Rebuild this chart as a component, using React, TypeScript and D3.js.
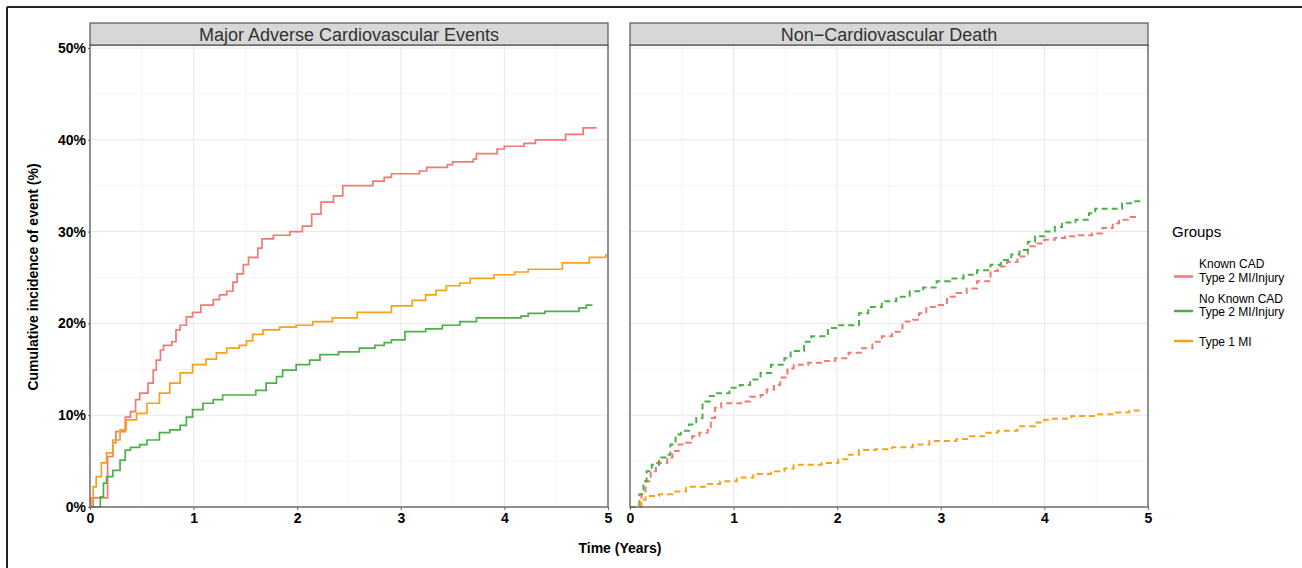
import React, { useEffect, useRef } from 'react';
import * as d3 from 'd3';

// panel titles, groups and tick labels
const panelTitles = ['Major Adverse Cardiovascular Events', 'Non\u2212Cardiovascular Death'];
const groupNames = [['Known CAD', 'Type 2 MI/Injury'], ['No Known CAD', 'Type 2 MI/Injury'], ['Type 1 MI']];
const groupColors = ['#F27A72', '#4DAF4A', '#F8A21A'];
const xTicks = [0, 1, 2, 3, 4, 5];
const yTicks = [0, 10, 20, 30, 40, 50];

// cumulative incidence (%): [years, percent]
const maceKnownCad: [number, number][] = [
	[0, 0], [0.03, 1.0], [0.17, 5.5], [0.22, 7.0], [0.25, 8.2], [0.34, 9.8], [0.39, 10.4], [0.44, 11.7],
	[0.48, 12.4], [0.56, 13.5], [0.61, 14.9], [0.64, 16.0], [0.68, 17.1], [0.71, 17.6], [0.79, 18.0],
	[0.83, 19.3], [0.87, 19.8], [0.93, 20.7], [0.99, 21.2], [1.07, 22.0], [1.19, 22.6], [1.25, 23.1],
	[1.32, 23.5], [1.38, 24.5], [1.42, 25.4], [1.48, 26.4], [1.53, 27.2], [1.62, 28.2], [1.66, 29.2],
	[1.77, 29.6], [1.93, 30.0], [2.05, 30.6], [2.14, 31.9], [2.23, 33.2], [2.35, 33.9], [2.44, 35.0],
	[2.73, 35.5], [2.84, 35.9], [2.91, 36.3], [3.18, 36.6], [3.25, 37.0], [3.45, 37.3], [3.5, 37.6],
	[3.7, 37.9], [3.73, 38.5], [3.93, 39.0], [4.0, 39.3], [4.19, 39.6], [4.3, 40.0], [4.59, 40.6],
	[4.76, 41.3], [4.89, 41.3],
];
const maceNoKnownCad: [number, number][] = [
	[0, 0], [0.1, 1.1], [0.13, 2.6], [0.16, 3.3], [0.22, 4.0], [0.29, 5.1], [0.34, 6.2], [0.39, 6.5],
	[0.48, 6.8], [0.55, 7.3], [0.67, 8.1], [0.77, 8.4], [0.87, 8.9], [0.93, 9.8], [0.99, 10.6],
	[1.09, 11.3], [1.19, 11.7], [1.28, 12.2], [1.6, 12.7], [1.7, 13.5], [1.8, 14.2], [1.86, 14.9],
	[1.99, 15.5], [2.12, 16.0], [2.22, 16.6], [2.4, 16.9], [2.6, 17.3], [2.75, 17.6], [2.84, 17.9],
	[2.91, 18.2], [3.04, 19.1], [3.24, 19.4], [3.4, 19.8], [3.57, 20.2], [3.73, 20.6], [4.16, 20.8],
	[4.23, 21.1], [4.39, 21.3], [4.72, 21.7], [4.79, 22.0], [4.85, 22.0],
];
const maceType1: [number, number][] = [
	[0, 0], [0.01, 1.0], [0.03, 2.2], [0.06, 3.3], [0.11, 4.8], [0.16, 5.9], [0.22, 7.3], [0.29, 8.4],
	[0.35, 9.5], [0.45, 10.2], [0.55, 11.3], [0.67, 12.4], [0.77, 13.5], [0.87, 14.6], [0.99, 15.5],
	[1.12, 16.1], [1.22, 16.8], [1.32, 17.3], [1.44, 17.6], [1.51, 18.1], [1.57, 18.8], [1.67, 19.3],
	[1.83, 19.6], [1.99, 19.8], [2.15, 20.2], [2.34, 20.6], [2.58, 21.2], [2.91, 21.9], [3.11, 22.5],
	[3.24, 23.1], [3.34, 23.6], [3.44, 24.1], [3.57, 24.4], [3.67, 24.9], [3.9, 25.3], [4.1, 25.6],
	[4.23, 25.9], [4.56, 26.6], [4.82, 27.2], [4.98, 27.6],
];
const ncdKnownCad: [number, number][] = [
	[0, 0], [0.08, 0], [0.11, 1.4], [0.15, 2.8], [0.2, 3.9], [0.25, 4.8], [0.36, 5.4], [0.41, 6.1],
	[0.47, 6.8], [0.54, 7.0], [0.6, 7.7], [0.67, 8.1], [0.75, 8.4], [0.78, 9.7], [0.82, 10.8],
	[0.88, 11.3], [1.09, 11.5], [1.16, 12.0], [1.26, 12.2], [1.32, 12.8], [1.39, 13.3], [1.45, 14.1],
	[1.52, 15.1], [1.58, 15.5], [1.72, 15.7], [1.85, 15.9], [1.98, 16.2], [2.11, 16.8], [2.24, 17.3],
	[2.34, 18.0], [2.43, 18.6], [2.53, 19.1], [2.63, 20.2], [2.73, 20.4], [2.79, 21.1], [2.86, 21.8],
	[2.96, 22.0], [3.06, 22.9], [3.15, 23.3], [3.25, 23.8], [3.35, 24.6], [3.48, 25.7], [3.55, 26.2],
	[3.64, 26.7], [3.74, 27.3], [3.84, 28.4], [3.91, 28.7], [4.0, 29.1], [4.1, 29.3], [4.2, 29.5],
	[4.33, 29.6], [4.46, 29.8], [4.56, 30.4], [4.66, 30.9], [4.72, 31.3], [4.82, 31.6], [4.9, 31.8],
];
const ncdNoKnownCad: [number, number][] = [
	[0, 0], [0.08, 0], [0.09, 1.4], [0.13, 2.8], [0.16, 3.9], [0.21, 4.6], [0.28, 5.4], [0.36, 5.7],
	[0.39, 6.8], [0.44, 7.9], [0.49, 8.3], [0.57, 9.0], [0.64, 9.7], [0.7, 11.5], [0.77, 12.1],
	[0.83, 12.4], [0.96, 13.0], [1.06, 13.3], [1.16, 13.9], [1.26, 14.6], [1.36, 15.5], [1.49, 16.2],
	[1.55, 17.0], [1.68, 18.0], [1.75, 18.6], [1.91, 19.5], [2.01, 19.8], [2.21, 21.1], [2.3, 21.8],
	[2.43, 22.4], [2.57, 22.9], [2.7, 23.5], [2.83, 23.9], [2.96, 24.6], [3.09, 24.9], [3.22, 25.3],
	[3.35, 25.8], [3.48, 26.4], [3.58, 26.9], [3.68, 27.5], [3.76, 28.0], [3.84, 28.9], [3.91, 29.5],
	[4.0, 30.0], [4.1, 30.5], [4.17, 31.0], [4.3, 31.3], [4.43, 32.0], [4.49, 32.5], [4.75, 33.1],
	[4.85, 33.3], [4.93, 33.4],
];
const ncdType1: [number, number][] = [
	[0, 0], [0.07, 0], [0.1, 0.8], [0.15, 1.2], [0.28, 1.4], [0.41, 1.7], [0.54, 2.2], [0.74, 2.5],
	[0.87, 2.8], [1.03, 3.2], [1.19, 3.6], [1.36, 3.9], [1.49, 4.2], [1.58, 4.6], [1.85, 4.8],
	[2.01, 5.2], [2.11, 5.7], [2.21, 6.2], [2.37, 6.3], [2.53, 6.5], [2.73, 6.8], [2.89, 7.2],
	[3.15, 7.4], [3.28, 7.7], [3.42, 8.1], [3.55, 8.3], [3.74, 8.8], [3.91, 9.2], [4.0, 9.5],
	[4.07, 9.6], [4.26, 9.9], [4.49, 10.1], [4.69, 10.3], [4.82, 10.5], [4.92, 10.6],
];

const W = 1302, H = 568;
const FONT = "'Liberation Sans', Arial, Helvetica, sans-serif";

export default function App() {
	const ref = useRef<SVGSVGElement>(null);

	useEffect(() => {
		const svg = d3.select(ref.current);
		svg.selectAll('*').remove();

		const panelLeft = [90, 630];
		const panelW = 518;
		const top = 45, bottom = 507, stripTop = 23;

		const y = d3.scaleLinear().domain([0, 50]).range([bottom, 48]);

		const panels = [
			{ title: panelTitles[0], series: [maceKnownCad, maceNoKnownCad, maceType1], dashed: false },
			{ title: panelTitles[1], series: [ncdKnownCad, ncdNoKnownCad, ncdType1], dashed: true },
		];

		// figure frame (top + left)
		svg.append('line').attr('x1', 7).attr('x2', W).attr('y1', 7).attr('y2', 7)
			.attr('stroke', '#222').attr('stroke-width', 2);
		svg.append('line').attr('x1', 7).attr('x2', 7).attr('y1', 7).attr('y2', H)
			.attr('stroke', '#222').attr('stroke-width', 2);

		panels.forEach((p, i) => {
			const x0 = panelLeft[i];
			const x = d3.scaleLinear().domain([0, 5]).range([x0, x0 + panelW]);
			const g = svg.append('g');

			g.append('rect').attr('x', x0).attr('y', top).attr('width', panelW).attr('height', bottom - top)
				.attr('fill', '#fff');

			// minor grid
			const minorX = d3.range(0.5, 5, 1);
			const minorY = d3.range(5, 50, 10);
			g.selectAll('.mx').data(minorX).enter().append('line')
				.attr('x1', (d) => x(d)).attr('x2', (d) => x(d)).attr('y1', top).attr('y2', bottom)
				.attr('stroke', '#f3f3f3').attr('stroke-width', 0.8);
			g.selectAll('.my').data(minorY).enter().append('line')
				.attr('x1', x0).attr('x2', x0 + panelW).attr('y1', (d) => y(d)).attr('y2', (d) => y(d))
				.attr('stroke', '#f3f3f3').attr('stroke-width', 0.8);
			// major grid
			g.selectAll('.gx').data(xTicks).enter().append('line')
				.attr('x1', (d) => x(d)).attr('x2', (d) => x(d)).attr('y1', top).attr('y2', bottom)
				.attr('stroke', '#e8e8e8').attr('stroke-width', 1);
			g.selectAll('.gy').data(yTicks).enter().append('line')
				.attr('x1', x0).attr('x2', x0 + panelW).attr('y1', (d) => y(d)).attr('y2', (d) => y(d))
				.attr('stroke', '#e8e8e8').attr('stroke-width', 1);

			// curves
			const clipId = 'clip' + i;
			svg.append('clipPath').attr('id', clipId).append('rect')
				.attr('x', x0).attr('y', top).attr('width', panelW).attr('height', bottom - top + 2);

			const line = d3.line<[number, number]>()
				.x((d) => x(d[0]))
				.y((d) => y(d[1]))
				.curve(d3.curveStepAfter);

			p.series.forEach((s, k) => {
				g.append('path')
					.attr('d', line(s))
					.attr('clip-path', `url(#${clipId})`)
					.attr('fill', 'none')
					.attr('stroke', groupColors[k])
					.attr('stroke-width', p.dashed ? 2 : 1.7)
					.attr('stroke-dasharray', p.dashed ? '6,4' : null);
			});

			// panel border
			g.append('rect').attr('x', x0).attr('y', top).attr('width', panelW).attr('height', bottom - top)
				.attr('fill', 'none').attr('stroke', '#666').attr('stroke-width', 1.4);

			// strip
			g.append('rect').attr('x', x0).attr('y', stripTop).attr('width', panelW).attr('height', top - stripTop)
				.attr('fill', '#d7d7d7').attr('stroke', '#555').attr('stroke-width', 1.2);
			g.append('text').attr('x', x0 + panelW / 2).attr('y', 41)
				.attr('text-anchor', 'middle').attr('font-family', FONT).attr('font-size', 18)
				.attr('fill', '#333').text(p.title);

			// x axis
			const ax = g.append('g').attr('transform', `translate(0,${bottom})`)
				.call(d3.axisBottom(x).tickValues(xTicks).tickFormat(d3.format('d')).tickSize(3).tickPadding(3));
			ax.select('.domain').remove();
			ax.selectAll('line').attr('stroke', '#666');
			ax.selectAll('text').attr('font-family', FONT).attr('font-size', 14)
				.attr('font-weight', 'bold').attr('fill', '#000');

			if (i === 0) {
				const ay = g.append('g').attr('transform', `translate(${x0},0)`)
					.call(d3.axisLeft(y).tickValues(yTicks).tickFormat((d) => `${d}%`).tickSize(2).tickPadding(2));
				ay.select('.domain').remove();
				ay.selectAll('line').attr('stroke', '#666');
				ay.selectAll('text').attr('font-family', FONT).attr('font-size', 14)
					.attr('font-weight', 'bold').attr('fill', '#000');
			}
		});

		// axis titles
		svg.append('text').attr('x', 620).attr('y', 553).attr('text-anchor', 'middle')
			.attr('font-family', FONT).attr('font-size', 14).attr('font-weight', 'bold')
			.text('Time (Years)');
		svg.append('text').attr('transform', 'translate(38,277) rotate(-90)').attr('text-anchor', 'middle')
			.attr('font-family', FONT).attr('font-size', 14).attr('font-weight', 'bold')
			.text('Cumulative incidence of event (%)');

		// legend
		const lg = svg.append('g').attr('font-family', FONT);
		lg.append('text').attr('x', 1172).attr('y', 237).attr('font-size', 15).attr('fill', '#000').text('Groups');
		const keyY = [276.5, 311, 341];
		groupNames.forEach((names, k) => {
			lg.append('line').attr('x1', 1174).attr('x2', 1193).attr('y1', keyY[k]).attr('y2', keyY[k])
				.attr('stroke', groupColors[k]).attr('stroke-width', 2.5);
			const t = lg.append('text').attr('x', 1199).attr('font-size', 12).attr('fill', '#000');
			const baseY = names.length === 2 ? keyY[k] - 8.5 : keyY[k] + 4.5;
			names.forEach((n, j) => {
				t.append('tspan').attr('x', 1199).attr('y', baseY + j * 13.5).text(n);
			});
		});
	}, []);

	return (
		<svg ref={ref} width={W} height={H}
			style={{ position: 'absolute', left: 0, top: 0, background: '#fff' }} />
	);
}
